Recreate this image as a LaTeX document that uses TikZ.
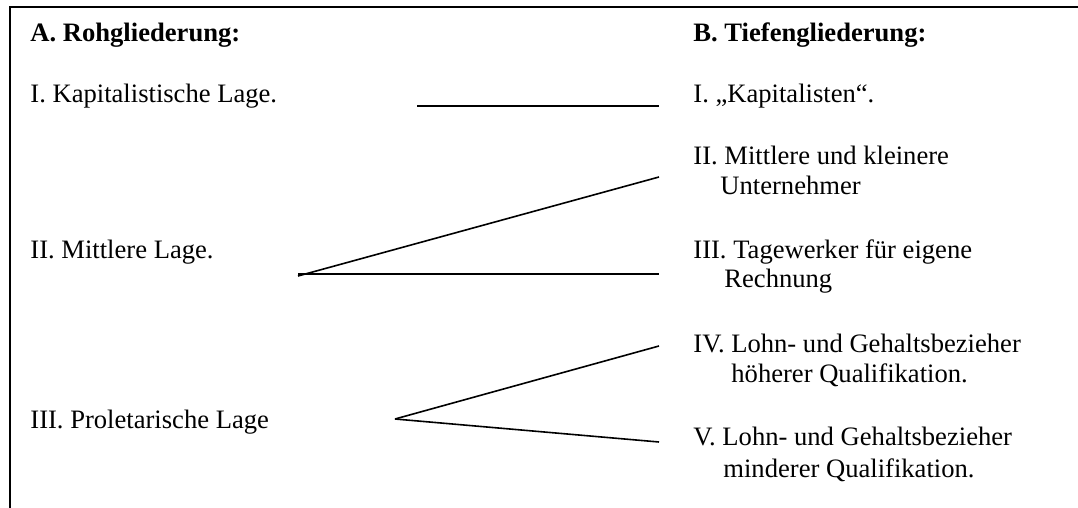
\documentclass[tikz,border=0pt]{standalone}
\usepackage{fontspec}
\setmainfont{Liberation Serif}
\begin{document}
\begin{tikzpicture}[x=0.5pt,y=-0.5pt,
  txt/.style={anchor=base west,inner sep=0pt,font=\fontsize{13.3}{16}\selectfont},
  head/.style={txt,font=\fontsize{13.3}{16}\selectfont\bfseries},
  frameline/.style={line width=1.25pt},
  link/.style={line width=0.8pt}]
\useasboundingbox (0,0) rectangle (1078,508);
% open frame: top and left edges
\coordinate (ftl) at (10,7);
\coordinate (ftr) at (1078,7);
\coordinate (fbl) at (10,508);
\draw[frameline] (ftr) -- (ftl) -- (fbl);

% headings
\node[head] (ha) at (30,42) {A. Rohgliederung:};
\node[head] (hb) at (693,42) {B. Tiefengliederung:};

% coarse structure
\node[txt] (l1) at (30,103) {I. Kapitalistische Lage.};
\node[txt] (l2) at (30,258) {II. Mittlere Lage.};
\node[txt] (l3) at (30,428) {III. Proletarische Lage};

% fine structure
\node[txt] (r1) at (693,103) {I. „Kapitalisten“.};
\node[txt] (r2) at (693,165) {II. Mittlere und kleinere};
\node[txt] (r2b) at (720,195) {Unternehmer};
\node[txt] (r3) at (693,258) {III. Tagewerker für eigene};
\node[txt] (r3b) at (724,288) {Rechnung};
\node[txt] (r4) at (693,352) {IV. Lohn- und Gehaltsbezieher};
\node[txt] (r4b) at (731,382) {höherer Qualifikation.};
\node[txt] (r5) at (693,445) {V. Lohn- und Gehaltsbezieher};
\node[txt] (r5b) at (723,477) {minderer Qualifikation.};

% branching points and line ends
\coordinate (s1) at (417,106);
\coordinate (e1) at (659,106);
\coordinate (v2) at (298,276);
\coordinate (e2) at (659,177);
\coordinate (e3) at (659,274);
\coordinate (v3) at (395,419);
\coordinate (e4) at (659,346);
\coordinate (e5) at (659,442);

\draw[link] (s1) -- (e1);
\draw[link] (v2) -- (e2);
\draw[link] (v2 |- e3) -- (e3);
\draw[link] (v3) -- (e4);
\draw[link] (v3) -- (e5);
\end{tikzpicture}
\end{document}
